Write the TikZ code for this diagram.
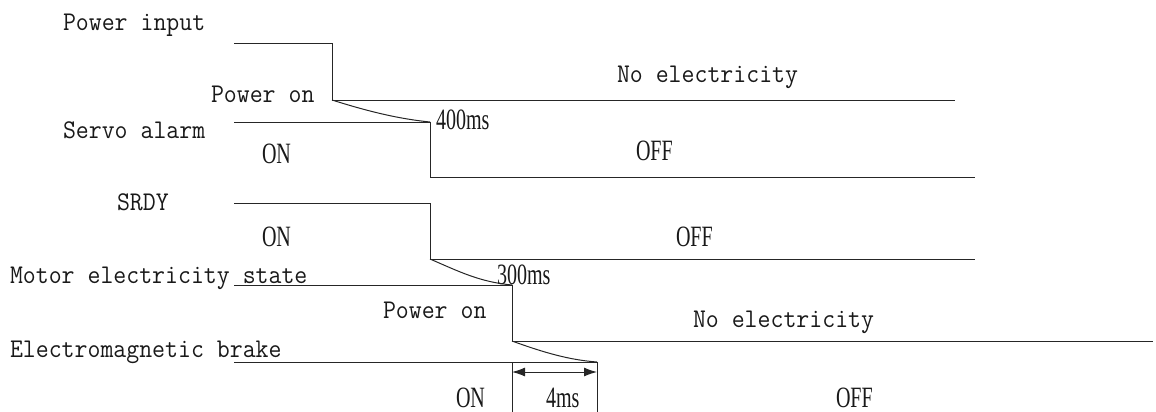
\documentclass[tikz,border=0pt]{standalone}
\usepackage{fontspec}
\usetikzlibrary{arrows.meta}
\newfontfamily\monolab[FakeStretch=0.93]{Latin Modern Mono}
\newfontfamily\condlab[FakeStretch=0.68]{Liberation Serif}
\begin{document}
\begin{tikzpicture}[x=1pt,y=-1pt,
  sig/.style={line width=1pt,draw=black!85},
  lab/.style={anchor=base west,inner sep=0pt,outer sep=0pt,font=\monolab\fontsize{27}{27}\selectfont,text=black!90},
  clab/.style={anchor=base west,inner sep=0pt,outer sep=0pt,font=\condlab\fontsize{29.5}{29.5}\selectfont,text=black!90},
  dim/.style={line width=1pt,draw=black!85,{Latex[length=13pt,width=9pt]}-{Latex[length=13pt,width=9pt]}}]
\useasboundingbox (0,0) rectangle (1156,412);
% labels
\node[lab] (t1) at (63,31) {Power input};
\node[lab] (t2) at (211,102) {Power on};
\node[lab] (t3) at (63,138) {Servo alarm};
\node[lab] (t4) at (117,210) {SRDY};
\node[lab] (t5) at (10,283) {Motor electricity state};
\node[lab] (t6) at (383,318) {Power on};
\node[lab] (t7) at (10,357) {Electromagnetic brake};
\node[lab] (t8) at (617,82) {No electricity};
\node[lab] (t9) at (693,327) {No electricity};
\node[clab] (c1) at (262,163) {ON};
\node[clab] (c2) at (262,246) {ON};
\node[clab] (c3) at (456,407) {ON};
\node[clab] (c4) at (546,407) {4ms};
\node[clab] (c5) at (836,407) {OFF};
\node[clab] (c6) at (636,160) {OFF};
\node[clab] (c7) at (676,246) {OFF};
\node[clab] (c8) at (436,129) {400ms};
\node[clab] (c9) at (497,284) {300ms};
% signals
\draw[sig] (234,44) -- (332,44) -- (332,100) -- (955,100);
\draw[sig] (332,100) .. controls (370,112) and (400,119) .. (430,122);
\draw[sig] (234,122) -- (430,122) -- (430,177) -- (975,177);
\draw[sig] (234,203) -- (430,203) -- (430,259) -- (975,259);
\draw[sig] (430,259) .. controls (460,272) and (480,282) .. (512,285);
\draw[sig] (234,285) -- (512,285) -- (512,341) -- (1153,341);
\draw[sig] (512,341) .. controls (545,353) and (570,360) .. (597,362);
\draw[sig] (234,362) -- (597,362);
\coordinate (a1) at (512,362);
\coordinate (a2) at (512,412);
\coordinate (b1) at (597,362);
\coordinate (b2) at (597,412);
\draw[sig] (a1) -- (a2);
\draw[sig] (b1) -- (b2);
\coordinate (d1) at (512,372);
\coordinate (d2) at (597,372);
\draw[dim] (d1) -- (d2);
\end{tikzpicture}
\end{document}
